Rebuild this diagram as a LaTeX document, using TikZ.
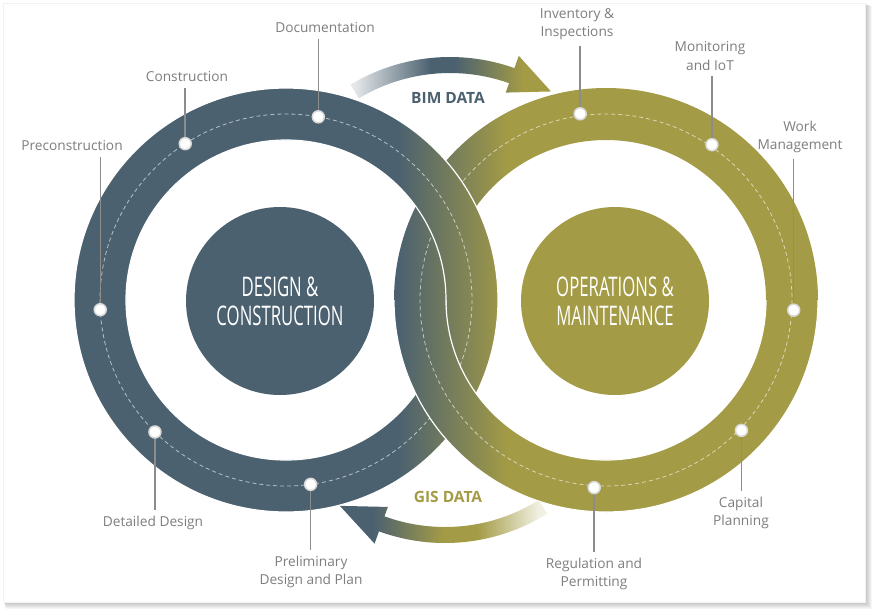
\documentclass[tikz,border=0pt]{standalone}
\usepackage{fontspec}
\setmainfont{Open Sans}
\newfontfamily\condfont[FakeStretch=0.62]{Open Sans}
\usetikzlibrary{calc}

\definecolor{slate}{HTML}{4B6170}
\definecolor{moss}{HTML}{A39B45}
\definecolor{labelgray}{HTML}{7E7E7E}
\definecolor{leadgray}{HTML}{8C8C8C}

\pgfdeclarehorizontalshading{bimflow}{100bp}{color(0bp)=(white); color(26bp)=(white!85!slate); color(45bp)=(slate); color(51bp)=(slate); color(68bp)=(moss); color(100bp)=(moss)}
\pgfdeclarehorizontalshading{gisflow}{100bp}{color(0bp)=(slate); color(33bp)=(slate); color(50bp)=(moss); color(58bp)=(moss); color(73bp)=(white!85!moss); color(100bp)=(white)}

\newcommand{\paintband}{%
  \fill[slate] (0,0) rectangle (398,614);
  \shade[left color=slate,right color=moss] (398,0) rectangle (508,614);
  \fill[moss] (508,0) rectangle (878,614);}

\begin{document}
\begin{tikzpicture}[x=1pt,y=-1pt,
  dot/.style={circle,fill=white,draw=black!15,line width=1.5pt,inner sep=0pt,minimum size=12pt},
  lbl/.style={text=labelgray,font=\fontsize{13.7}{18.5}\selectfont,align=center,inner sep=0pt,outer sep=6pt},
  leader/.style={draw=leadgray,line width=1.5pt},
  track/.style={white,opacity=0.6,line width=0.8pt,dash pattern=on 4pt off 3pt},
  rim/.style={white,line width=1.2pt},
  hub/.style={circle,minimum size=188pt,inner sep=0pt,text=white,align=center,font=\condfont\fontsize{27}{29}\selectfont},
  flow/.style={font=\bfseries\fontsize{15.5}{18}\selectfont}]

  \fill[white] (0,0) rectangle (878,614);
  \foreach \k in {1,...,7}
    \fill[black,opacity=0.035] (3+\k*0.4,3+\k*0.4) rectangle (865+\k,602+\k);
  \fill[white] (3,3) rectangle (865,602);
  \draw[black!5] (3,3) rectangle (865,602);

  \coordinate (L) at (286,300);
  \coordinate (R) at (606,300);
  \coordinate (C1) at (450,250);
  \coordinate (C2) at (445,350);

  \begin{scope}[even odd rule]
    \clip (R) circle[radius=212] (R) circle[radius=160];
    \paintband
  \end{scope}
  \draw[track] (R) circle[radius=186];

  \begin{scope}[even odd rule]
    \clip (L) circle[radius=212] (L) circle[radius=160];
    \paintband
  \end{scope}
  \draw[rim] (L) circle[radius=212] (L) circle[radius=160];
  \draw[track] (L) circle[radius=186];

  \begin{scope}
    \clip (0,300) rectangle (878,614);
    \begin{scope}[even odd rule]
      \clip (R) circle[radius=212] (R) circle[radius=160];
      \paintband
    \end{scope}
    \draw[rim] (R) circle[radius=212] (R) circle[radius=160];
    \draw[track] (R) circle[radius=186];
  \end{scope}

  \shade[shading=bimflow] ($(C1)+(-121:193)$) arc[start angle=-121,end angle=-70.5,radius=193]
    -- ($(C1)+(-70.5:206)$) -- ($(C1)+(-57.5:188)$) -- ($(C1)+(-70.5:167)$) -- ($(C1)+(-70.5:177)$)
    arc[start angle=-70.5,end angle=-121,radius=177] -- cycle;
  \shade[shading=gisflow] ($(C2)+(58:193)$) arc[start angle=58,end angle=110,radius=193]
    -- ($(C2)+(110:206)$) -- ($(C2)+(124:188)$) -- ($(C2)+(110:167)$) -- ($(C2)+(110:177)$)
    arc[start angle=110,end angle=58,radius=177] -- cycle;
  \node[flow,text=slate] (bim) at (448,98) {BIM DATA};
  \node[flow,text=moss] (gis) at (448,497) {GIS DATA};

  \node[hub,fill=slate] (design) at (280,301) {DESIGN \&\\CONSTRUCTION};
  \node[hub,fill=moss] (operations) at (615,301) {OPERATIONS \&\\MAINTENANCE};

  \coordinate (docpt) at ($(L)+(-80:186)$);
  \coordinate (conpt) at ($(L)+(-122.8:186)$);
  \coordinate (prept) at ($(L)+(177:186)$);
  \coordinate (detpt) at ($(L)+(134.8:186)$);
  \coordinate (prlpt) at ($(L)+(82.4:186)$);
  \coordinate (invpt) at ($(R)+(-97.9:188)$);
  \coordinate (monpt) at ($(R)+(-55.7:188)$);
  \coordinate (wrkpt) at ($(R)+(3.1:188)$);
  \coordinate (cappt) at ($(R)+(43.9:188)$);
  \coordinate (regpt) at ($(R)+(93.6:188)$);

  \node[lbl] (doclbl) at (325,28) {Documentation};
  \node[lbl] (conlbl) at (187,77) {Construction};
  \node[lbl] (prelbl) at (72,146) {Preconstruction};
  \node[lbl] (detlbl) at (153,523) {Detailed Design};
  \node[lbl] (prllbl) at (311,572) {Preliminary\\Design and Plan};
  \node[lbl] (invlbl) at (577,24) {Inventory \&\\Inspections};
  \node[lbl] (monlbl) at (710,56) {Monitoring\\and IoT};
  \node[lbl] (wrklbl) at (800,137) {Work\\Management};
  \node[lbl] (caplbl) at (741,513) {Capital\\Planning};
  \node[lbl] (reglbl) at (594,574) {Regulation and\\Permitting};

  \draw[leader] (docpt |- doclbl.south) -- (docpt);
  \draw[leader] (conpt |- conlbl.south) -- (conpt);
  \draw[leader] (prept |- prelbl.south) -- (prept);
  \draw[leader] (invpt |- invlbl.south) -- (invpt);
  \draw[leader] (monpt |- monlbl.south) -- (monpt);
  \draw[leader] (wrkpt |- wrklbl.south) -- (wrkpt);
  \draw[leader] (detpt) -- (detpt |- detlbl.north);
  \draw[leader] (prlpt) -- (prlpt |- prllbl.north);
  \draw[leader] (cappt) -- (cappt |- caplbl.north);
  \draw[leader] (regpt) -- (regpt |- reglbl.north);

  \foreach \p in {doc,con,pre,det,prl,inv,mon,wrk,cap,reg}
    \node[dot] (\p dot) at (\p pt) {};
\end{tikzpicture}
\end{document}
